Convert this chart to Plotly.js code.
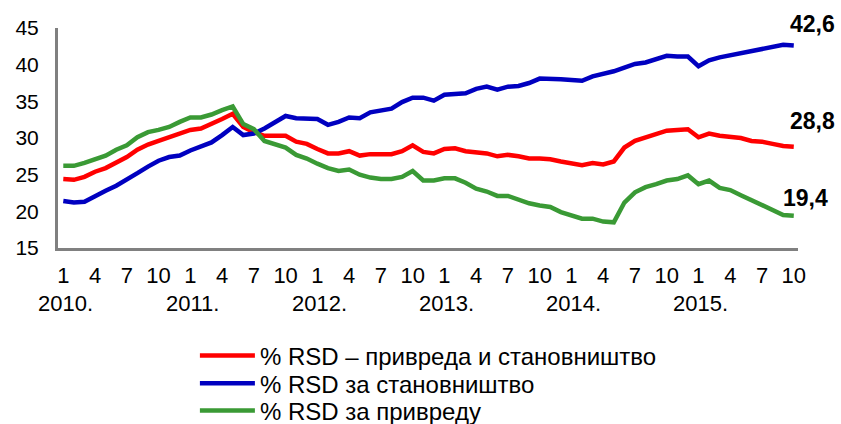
<!DOCTYPE html>
<html>
<head>
<meta charset="utf-8">
<script src="https://cdn.plot.ly/plotly-3.0.1.min.js"></script>
<style>html,body{margin:0;padding:0;background:#fff;}#chart{width:841px;height:424px;}</style>
</head>
<body>
<div id="chart"></div>
<script>
// Monthly data, January 2010 – October 2015
const years = ['2010.', '2011.', '2012.', '2013.', '2014.', '2015.'];
const monthTicks = [1, 4, 7, 10];

const seriesNames = [
  '% RSD – привреда и становништво',
  '% RSD за становништво',
  '% RSD за привреду'
];

const totalRSD = [
  24.4, 24.3, 24.7, 25.4, 25.9, 26.7, 27.4, 28.4, 29.1, 29.6, 30.1, 30.6,
  31.1, 31.3, 31.9, 32.6, 33.3, 31.5, 30.8, 30.3, 30.3, 30.3, 29.5, 29.2,
  28.5, 27.9, 27.9, 28.2, 27.6, 27.8, 27.8, 27.8, 28.2, 29.0, 28.1, 27.9,
  28.5, 28.6, 28.2, 28.1, 27.9, 27.5, 27.7, 27.5, 27.2, 27.2, 27.1, 26.8,
  26.5, 26.3, 26.6, 26.4, 26.8, 28.7, 29.6, 30.1, 30.6, 31.0, 31.1, 31.2,
  30.1, 30.6, 30.3, 30.2, 30.0, 29.6, 29.5, 29.2, 28.9, 28.8
];
const householdsRSD = [
  21.4, 21.2, 21.3, 22.1, 22.8, 23.5, 24.3, 25.2, 26.1, 26.9, 27.4, 27.6,
  28.3, 28.8, 29.4, 30.4, 31.5, 30.4, 30.6, 31.3, 32.2, 33.0, 32.7, 32.6,
  32.6, 31.8, 32.2, 32.8, 32.7, 33.5, 33.8, 34.0, 34.9, 35.5, 35.5, 35.1,
  35.9, 36.0, 36.1, 36.7, 37.0, 36.6, 37.0, 37.1, 37.5, 38.1, 38.1, 38.0,
  37.9, 37.8, 38.4, 38.7, 39.1, 39.6, 40.1, 40.3, 40.7, 41.2, 41.1, 41.1,
  39.8, 40.6, 41.0, 41.3, 41.5, 41.8, 42.1, 42.4, 42.7, 42.6
];
const corporateRSD = [
  26.2, 26.2, 26.6, 27.1, 27.6, 28.4, 29.0, 30.1, 30.8, 31.1, 31.5, 32.2,
  32.8, 32.8, 33.2, 33.8, 34.3, 31.9, 31.2, 29.6, 29.2, 28.7, 27.7, 27.2,
  26.5, 25.9, 25.5, 25.7, 25.0, 24.6, 24.4, 24.4, 24.7, 25.5, 24.2, 24.2,
  24.5, 24.5, 23.9, 23.1, 22.7, 22.1, 22.1, 21.6, 21.1, 20.8, 20.6, 19.9,
  19.4, 19.0, 19.0, 18.6, 18.5, 21.2, 22.6, 23.3, 23.7, 24.2, 24.4, 24.9,
  23.7, 24.2, 23.2, 22.9, 22.2, 21.5, 20.9, 20.1, 19.5, 19.4
];

const colors = ['#FF0000', '#0000C0', '#3A9A35'];
const allSeries = [totalRSD, householdsRSD, corporateRSD];
const legendIds = ['legend', 'legend2', 'legend3'];

const n = totalRSD.length;
const xIdx = Array.from({length: n}, (_, i) => i);
const monthOf = i => (i % 12) + 1;

const tickvals = xIdx.filter(i => monthTicks.includes(monthOf(i)));
const ticktext = tickvals.map(i => String(monthOf(i)));

const FONT = 'Liberation Sans, Arial, sans-serif';

const traces = allSeries.map((ys, k) => ({
  x: xIdx,
  y: ys,
  type: 'scatter',
  mode: 'lines',
  name: seriesNames[k],
  legend: legendIds[k],
  line: {color: colors[k], width: 4.5},
  hoverinfo: 'skip'
}));

// end-value labels (bold), positioned relative to the last data point
const labelShift = [[19, 26], [19, 22], [12, 18]];
const annotations = allSeries.map((ys, k) => ({
  x: n - 1, y: ys[n - 1], xref: 'x', yref: 'y',
  text: '<b>' + ys[n - 1].toFixed(1).replace('.', ',') + '</b>',
  showarrow: false, xanchor: 'center', yanchor: 'middle',
  xshift: labelShift[k][0], yshift: labelShift[k][1],
  font: {family: FONT, size: 23, color: '#000'}
}));

years.forEach((yr, j) => {
  annotations.push({
    x: j * 12, y: 0, xref: 'x', yref: 'paper',
    text: yr, showarrow: false, xanchor: 'center', yanchor: 'middle',
    xshift: 2, yshift: -55,
    font: {family: FONT, size: 22, color: '#000'}
  });
});

const legendRowsY = [-0.49, -0.617, -0.74];
function legendBox(k) {
  return {
    x: 0.185, y: legendRowsY[k], xanchor: 'left', yanchor: 'middle',
    orientation: 'v', font: {family: FONT, size: 24, color: '#000'},
    itemwidth: 55, bgcolor: 'rgba(0,0,0,0)', borderwidth: 0
  };
}

const layout = {
  width: 841, height: 424,
  margin: {l: 58, r: 43, t: 28, b: 176, autoexpand: false},
  paper_bgcolor: '#fff', plot_bgcolor: '#fff',
  font: {family: FONT, size: 20, color: '#000'},
  showlegend: true,
  legend: legendBox(0),
  legend2: legendBox(1),
  legend3: legendBox(2),
  xaxis: {
    range: [-0.5, n - 0.6],
    tickmode: 'array', tickvals: tickvals, ticktext: ticktext,
    showgrid: false, zeroline: false,
    showline: true, linecolor: '#808080', linewidth: 3,
    ticks: '', tickfont: {family: FONT, size: 22, color: '#000'},
    ticklabelstandoff: 6,
    fixedrange: true
  },
  yaxis: {
    range: [15, 45], dtick: 5, tick0: 15,
    showgrid: false, zeroline: false,
    showline: true, linecolor: '#808080', linewidth: 3,
    ticks: '', tickfont: {family: FONT, size: 21, color: '#000'},
    ticklabelstandoff: 12,
    fixedrange: true
  },
  annotations: annotations
};

Plotly.newPlot('chart', traces, layout, {displayModeBar: false, staticPlot: true});
</script>
</body>
</html>
